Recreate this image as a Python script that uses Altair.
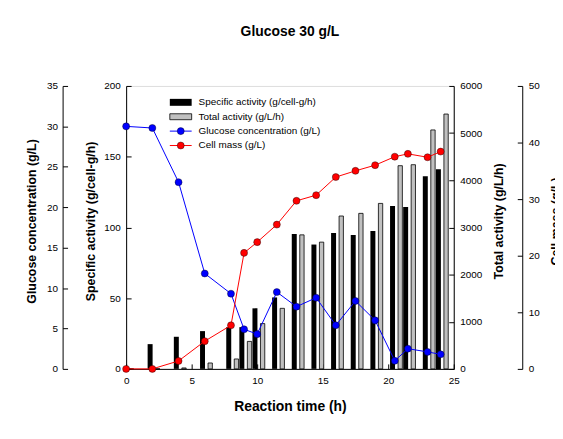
import altair as alt
import pandas as pd

TITLE = "Glucose 30 g/L"
X_TITLE = "Reaction time (h)"
GLUCOSE_TITLE = "Glucose concentration (g/L)"
SA_TITLE = "Specific activity (g/cell-g/h)"
TA_TITLE = "Total activity (g/L/h)"
CM_TITLE = "Cell mass (g/L)"

TIME = [0, 2, 4, 6, 8, 9, 10, 11.5, 13, 14.5, 16, 17.5, 19, 20.5, 21.5, 23, 24]
SPECIFIC_ACTIVITY = [0, 17.5, 22.7, 26.7, 29.5, 29.5, 42.8, 50.5, 95.4, 87.9, 96.1,
                     94.7, 97.5, 115.1, 114.4, 136.1, 141.1]
TOTAL_ACTIVITY = [0, 0, 20, 125, 210, 583, 961, 1284, 2842, 2688, 3242, 3298, 3509,
                  4309, 4330, 5067, 5404]
GLUCOSE = [30.0, 29.8, 23.1, 11.8, 9.3, 4.9, 4.3, 9.5, 7.7, 8.8, 5.4, 8.4, 6.0,
           1.0, 2.5, 2.1, 1.8]
CELL_MASS = [0, 0, 1.4, 4.9, 7.7, 20.5, 22.4, 25.5, 29.7, 30.7, 33.9, 35.0, 36.0,
             37.5, 38.0, 37.4, 38.4]

X_TICKS = [0, 5, 10, 15, 20, 25]
GLUCOSE_TICKS = [0, 5, 10, 15, 20, 25, 30, 35]
SA_TICKS = [0, 50, 100, 150, 200]
TA_TICKS = [0, 1000, 2000, 3000, 4000, 5000, 6000]
CM_TICKS = [0, 10, 20, 30, 40, 50]

LEGEND_LABELS = [SA_TITLE, TA_TITLE, GLUCOSE_TITLE, CM_TITLE]

FONT = "Liberation Sans"
W, H = 330, 285
BLUE = "#0000ff"
RED = "#ff0000"
GRAY = "#c0c0c0"

df = pd.DataFrame({
    "t": TIME,
    "sa": SPECIFIC_ACTIVITY,
    "ta": TOTAL_ACTIVITY,
    "glucose": GLUCOSE,
    "cell": CELL_MASS,
})

common_axis = dict(
    grid=False, domainColor="black", tickColor="black", labelColor="black",
    titleColor="black", labelFont=FONT, titleFont=FONT, labelFontSize=10,
    domainWidth=1, tickWidth=1, tickSize=alt.ExprRef(expr="-5"), format="d",
)

x_axis = alt.Axis(
    values=X_TICKS, title=X_TITLE, labelPadding=12, labelFlush=False,
    titleFontSize=14, titleFontWeight="bold", titleX=W / 2, titleY=38,
    titleAlign="center", titleBaseline="middle", **common_axis,
)
x_scale = alt.Scale(domain=[0, 25], nice=False, zero=False)


def xq(field):
    return alt.X(f"{field}:Q", scale=x_scale, axis=x_axis)


def y_axis(title, values, orient, offset, title_x, pad):
    return alt.Axis(
        title=title, values=values, orient=orient, offset=offset,
        labelPadding=pad, titleAngle=270, titleAlign="center",
        titleBaseline="middle", titleX=title_x, titleY=136,
        titleFontSize=12.5, titleFontWeight="bold", **common_axis,
    )


bars_sa = alt.Chart(df).transform_calculate(
    x0="datum.t - 0.36", x1="datum.t + 0.02"
).mark_bar(color="black").encode(
    x=xq("x0"), x2="x1:Q",
    y=alt.Y("sa:Q", scale=alt.Scale(domain=[0, 200], nice=False),
            axis=y_axis(SA_TITLE, SA_TICKS, "left", 0, -36, 11)),
    y2=alt.datum(0),
)

bars_ta = alt.Chart(df).transform_calculate(
    x0="datum.t + 0.25", x1="datum.t + 0.58"
).mark_bar(color=GRAY, stroke="black", strokeWidth=0.8).encode(
    x=xq("x0"), x2="x1:Q",
    y=alt.Y("ta:Q", scale=alt.Scale(domain=[0, 6000], nice=False),
            axis=y_axis(TA_TITLE, TA_TICKS, "right", 0, 45, 11)),
    y2=alt.datum(0),
)

glucose = alt.Chart(df).mark_line(
    color=BLUE, strokeWidth=1,
    point=alt.OverlayMarkDef(filled=True, fill=BLUE, size=50, stroke="black", strokeWidth=0.4),
).encode(
    x=xq("t"),
    y=alt.Y("glucose:Q", scale=alt.Scale(domain=[0, 35], nice=False),
            axis=y_axis(GLUCOSE_TITLE, GLUCOSE_TICKS, "left", 64, -31, 10)),
)

cell = alt.Chart(df).mark_line(
    color=RED, strokeWidth=1,
    point=alt.OverlayMarkDef(filled=True, fill=RED, size=50, stroke="black", strokeWidth=0.4),
).encode(
    x=xq("t"),
    y=alt.Y("cell:Q", scale=alt.Scale(domain=[0, 50], nice=False),
            axis=y_axis(CM_TITLE, CM_TICKS, "right", 69, 34, 11)),
)

one = pd.DataFrame({"k": [0]})
ROW_Y = [16.5, 31, 45.5, 60]
SX0, SX1, SXC, TX = 44, 66, 55, 73

legend = [
    alt.Chart(one).mark_rect(color="black").encode(
        x=alt.value(SX0), x2=alt.value(SX1),
        y=alt.value(ROW_Y[0] - 3.5), y2=alt.value(ROW_Y[0] + 3.5)),
    alt.Chart(one).mark_rect(color=GRAY, stroke="black", strokeWidth=0.8).encode(
        x=alt.value(SX0), x2=alt.value(SX1),
        y=alt.value(ROW_Y[1] - 3), y2=alt.value(ROW_Y[1] + 3)),
    alt.Chart(one).mark_rule(color=BLUE, strokeWidth=1).encode(
        x=alt.value(SX0), x2=alt.value(SX1), y=alt.value(ROW_Y[2])),
    alt.Chart(one).mark_point(filled=True, fill=BLUE, size=50, stroke="black",
                              strokeWidth=0.4, opacity=1).encode(
        x=alt.value(SXC), y=alt.value(ROW_Y[2])),
    alt.Chart(one).mark_rule(color=RED, strokeWidth=1).encode(
        x=alt.value(SX0), x2=alt.value(SX1), y=alt.value(ROW_Y[3])),
    alt.Chart(one).mark_point(filled=True, fill=RED, size=50, stroke="black",
                              strokeWidth=0.4, opacity=1).encode(
        x=alt.value(SXC), y=alt.value(ROW_Y[3])),
]
for lbl, ry in zip(LEGEND_LABELS, ROW_Y):
    legend.append(
        alt.Chart(one).mark_text(align="left", baseline="middle", font=FONT,
                                 fontSize=10, color="black").encode(
            x=alt.value(TX), y=alt.value(ry), text=alt.value(lbl))
    )

chart = alt.layer(bars_sa, bars_ta, glucose, cell, *legend).resolve_scale(
    y="independent"
).properties(
    width=W, height=H,
    title=alt.TitleParams(TITLE, fontSize=14, font=FONT, fontWeight="bold",
                          anchor="middle", frame="group", offset=42, color="black"),
    autosize=alt.AutoSizeParams(type="none"),
    padding={"left": 119, "top": 77, "right": 102, "bottom": 55},
).configure_view(stroke=None).configure(font=FONT)

chart.save("out.html", embed_options={"renderer": "svg", "actions": False})
